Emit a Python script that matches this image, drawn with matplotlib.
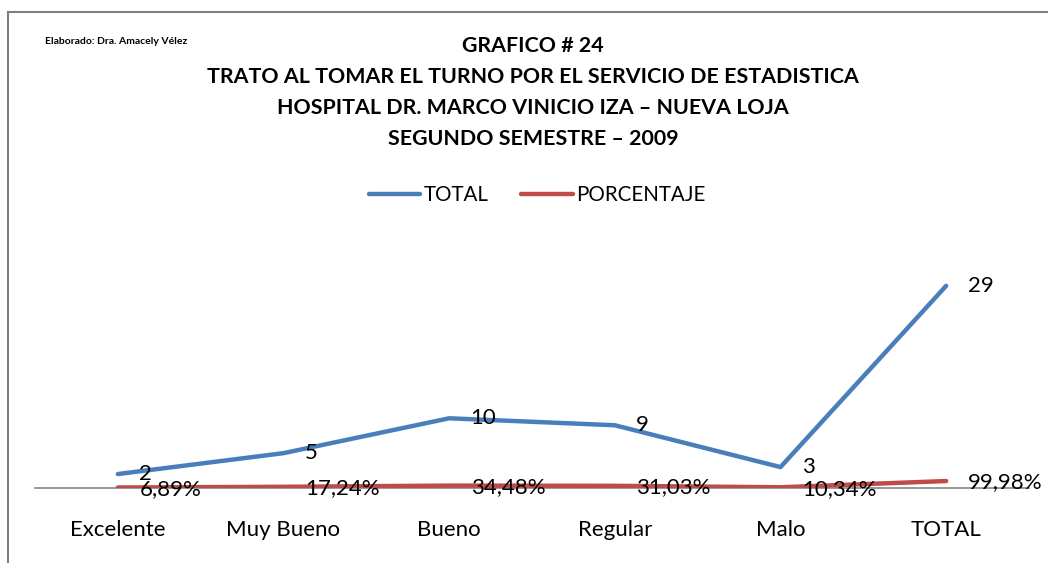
import matplotlib.pyplot as plt
from matplotlib.lines import Line2D

plt.rcParams['font.family'] = ['Lato', 'DejaVu Sans']

# datos del grafico
categorias = ['Excelente', 'Muy Bueno', 'Bueno', 'Regular', 'Malo', 'TOTAL']
total = [2, 5, 10, 9, 3, 29]
porcentaje = [0.0689, 0.1724, 0.3448, 0.3103, 0.1034, 0.9998]
etiquetas_pct = ['6,89%', '17,24%', '34,48%', '31,03%', '10,34%', '99,98%']
titulo = ['GRAFICO # 24',
          'TRATO AL TOMAR EL TURNO POR EL SERVICIO DE ESTADISTICA',
          'HOSPITAL DR. MARCO VINICIO IZA \u2013 NUEVA LOJA',
          'SEGUNDO SEMESTRE \u2013 2009']

azul = '#4A7EBB'
rojo = '#BE4B48'

fig = plt.figure(figsize=(10.48, 5.63), dpi=100)
ax = fig.add_axes([35 / 1048, 75 / 563, 994 / 1048, 244 / 563])

x = range(len(categorias))
ax.plot(x, total, color=azul, lw=3.2, solid_capstyle='round', label='TOTAL', zorder=3)
ax.plot(x, porcentaje, color=rojo, lw=3.2, solid_capstyle='round', label='PORCENTAJE', zorder=3)

# etiquetas de datos a la derecha de cada punto
for i in x:
    ax.annotate(str(total[i]), (i, total[i]), xytext=(15.5, 0), textcoords='offset points',
                ha='left', va='center', fontsize=16, zorder=4)
    ax.annotate(etiquetas_pct[i], (i, porcentaje[i]), xytext=(15.5, -1), textcoords='offset points',
                ha='left', va='center', fontsize=16, zorder=4)

ax.set_xlim(-0.5, len(categorias) - 0.5)
ax.set_ylim(0, 35)
ax.set_xticks(list(x))
ax.set_xticklabels(categorias, fontsize=16)
ax.tick_params(axis='x', length=0, pad=23)
ax.set_yticks([])
for s in ['top', 'right', 'left']:
    ax.spines[s].set_visible(False)
ax.spines['bottom'].set_color('#868686')
ax.spines['bottom'].set_linewidth(1.2)
ax.spines['bottom'].set_zorder(2)
ax.patch.set_alpha(0)

# titulo
ys = [46, 77, 108, 139]
for linea, yy in zip(titulo, ys):
    fig.text(533 / 1048, 1 - yy / 563, linea, ha='center', va='center',
             fontsize=15.4, fontweight='bold')

fig.text(45 / 1048, 1 - 41 / 563, 'Elaborado: Dra. Amacely V\u00e9lez', ha='left', va='center',
         fontsize=7.5, fontweight='bold')

leg = fig.legend(loc='center', bbox_to_anchor=(537 / 1048, 1 - 195 / 563), ncol=2, frameon=False,
                 fontsize=14.8, handlelength=2.5, handletextpad=0.15, columnspacing=1.6)

# marco del area del grafico
fig.add_artist(Line2D([8 / 1048, 8 / 1048], [0, 1 - 12 / 563], color='#7F7F7F', lw=1.5))
fig.add_artist(Line2D([8 / 1048, 1], [1 - 12 / 563, 1 - 12 / 563], color='#7F7F7F', lw=1.5))

plt.savefig('out.png', dpi=100)
